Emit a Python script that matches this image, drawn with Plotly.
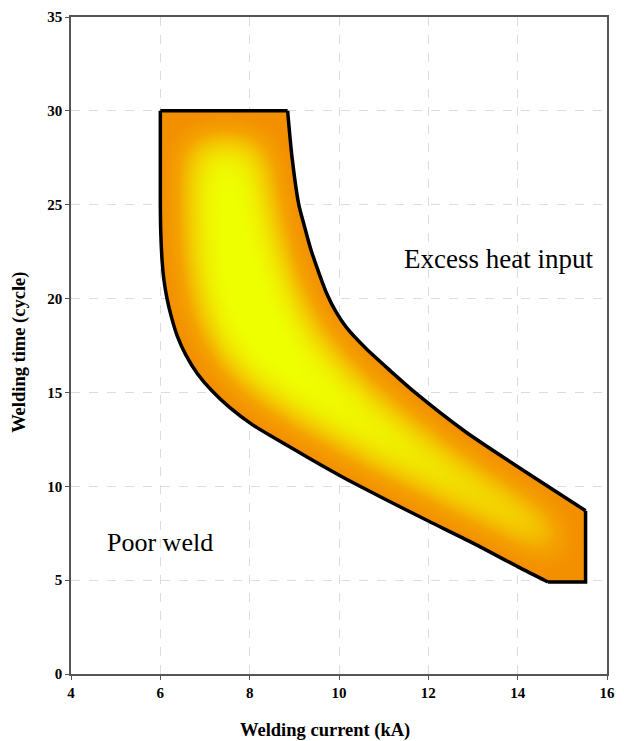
import numpy as np
import plotly.graph_objects as go

# Axis ticks
current_ticks = [4, 6, 8, 10, 12, 14, 16]
time_ticks = [0, 5, 10, 15, 20, 25, 30, 35]

# Lower / left edge of the weldable lobe (top-left corner down to bottom corner)
lower_current = [6.00, 6.00, 6.01, 6.04, 6.08, 6.15, 6.25, 6.38, 6.57, 6.83, 7.15,
                 7.55, 8.05, 8.68, 9.40, 10.15, 11.0, 12.0, 13.0, 14.0, 14.68]
lower_time = [30.0, 25.0, 23.5, 22.0, 21.0, 20.0, 19.0, 18.0, 17.0, 16.0, 15.1,
              14.2, 13.3, 12.4, 11.4, 10.4, 9.35, 8.15, 6.97, 5.72, 4.9]

# Upper / right edge (top corner down to the right end)
upper_current = [8.85, 8.95, 9.10, 9.21, 9.36, 9.53, 9.72, 9.93, 10.17, 10.6,
                 11.15, 11.7, 12.8, 13.9, 15.52]
upper_time = [30.0, 27.5, 25.0, 24.0, 22.7, 21.5, 20.3, 19.3, 18.45, 17.35,
              16.15, 15.0, 12.96, 11.2, 8.7]

# Right end of the lobe (bottom edge and vertical cut)
end_current = [14.68, 15.52, 15.52]
end_time = [4.9, 4.9, 8.7]

# Closed outline of the lobe
outline_x = np.array(lower_current + end_current[1:] + upper_current[::-1])
outline_y = np.array(lower_time + end_time[1:] + upper_time[::-1])

# ---- shaded interior: a blurred copy of the lobe mask ----
PX_PER_KA = 45.33      # screen scale of the current axis
PX_PER_CYCLE = 18.83   # screen scale of the time axis

xs = np.arange(5.9, 15.65, 1.0 / PX_PER_KA)
ys = np.arange(4.7, 30.2, 1.0 / PX_PER_CYCLE)
X, Y = np.meshgrid(xs, ys)


def point_in_polygon(px, py, vx, vy):
    res = np.zeros(px.shape, dtype=bool)
    j = len(vx) - 1
    for i in range(len(vx)):
        xi, yi, xj, yj = vx[i], vy[i], vx[j], vy[j]
        if yi != yj:
            cross = ((yi > py) != (yj > py)) & (px < (xj - xi) * (py - yi) / (yj - yi) + xi)
            res ^= cross
        j = i
    return res


def gaussian_blur(field, sigma):
    r = int(3 * sigma)
    k = np.exp(-0.5 * (np.arange(-r, r + 1) / sigma) ** 2)
    k /= k.sum()
    out = np.apply_along_axis(lambda row: np.convolve(row, k, mode="same"), 1, field)
    out = np.apply_along_axis(lambda col: np.convolve(col, k, mode="same"), 0, out)
    return out


inside = point_in_polygon(X, Y, outline_x, outline_y)
soft = gaussian_blur(inside.astype(float), 30.0)
shade = np.clip((soft - 0.5) / 0.48, 0, 1) ** 1.6
Z = np.where(inside, np.round(shade, 3), np.nan)

fig = go.Figure()

fig.add_trace(go.Heatmap(
    x=np.round(xs, 4), y=np.round(ys, 4), z=Z,
    zmin=0, zmax=1,
    colorscale=[[0.0, "#f39000"], [0.3, "#f4a300"], [0.6, "#f3cc00"],
                [0.85, "#f0ee00"], [1.0, "#eeff00"]],
    showscale=False, hoverinfo="skip", zsmooth=False,
))

edge = dict(color="black", width=3.5)
# curved flanks
fig.add_trace(go.Scatter(x=lower_current, y=lower_time, mode="lines",
                         line=dict(shape="spline", smoothing=0.8, **edge),
                         hoverinfo="skip", showlegend=False))
fig.add_trace(go.Scatter(x=upper_current, y=upper_time, mode="lines",
                         line=dict(shape="spline", smoothing=0.8, **edge),
                         hoverinfo="skip", showlegend=False))
# straight top edge and right end
fig.add_trace(go.Scatter(x=[lower_current[0], upper_current[0]],
                         y=[lower_time[0], upper_time[0]], mode="lines",
                         line=edge, hoverinfo="skip", showlegend=False))
fig.add_trace(go.Scatter(x=end_current, y=end_time, mode="lines",
                         line=edge, hoverinfo="skip", showlegend=False))

serif = "Liberation Serif, Times New Roman, serif"
axis_common = dict(
    showgrid=True, gridcolor="#dcdcdc", griddash="dash", gridwidth=1,
    showline=True, linecolor="#555555", linewidth=1.5, mirror=True,
    ticks="outside", ticklen=4, tickcolor="#555555", tickwidth=1.2,
    zeroline=False,
    tickfont=dict(family=serif, size=15, color="black", weight="bold"),
)

fig.update_xaxes(range=[4, 16], tickvals=current_ticks, **axis_common)
fig.update_yaxes(range=[0, 35], tickvals=time_ticks, **axis_common)

fig.update_layout(
    width=624, height=741,
    margin=dict(l=71, r=9, t=15, b=67),
    plot_bgcolor="white", paper_bgcolor="white",
    showlegend=False,
    annotations=[
        dict(text="Welding current (kA)", xref="paper", yref="paper",
             x=0.474, y=-0.0865, xanchor="center", yanchor="middle", showarrow=False,
             font=dict(family=serif, size=18.5, color="black", weight="bold")),
        dict(text="Welding time (cycle)", xref="paper", yref="paper",
             x=-0.0974, y=0.49, xanchor="center", yanchor="middle", showarrow=False,
             textangle=-90,
             font=dict(family=serif, size=18.5, color="black", weight="bold")),
        dict(text="Excess heat input", x=13.58, y=22.1, xref="x", yref="y",
             showarrow=False, xanchor="center", yanchor="middle",
             font=dict(family=serif, size=27, color="black")),
        dict(text="Poor weld", x=6.0, y=7.0, xref="x", yref="y",
             showarrow=False, xanchor="center", yanchor="middle",
             font=dict(family=serif, size=26, color="black")),
    ],
)

fig.write_html("out.html")
